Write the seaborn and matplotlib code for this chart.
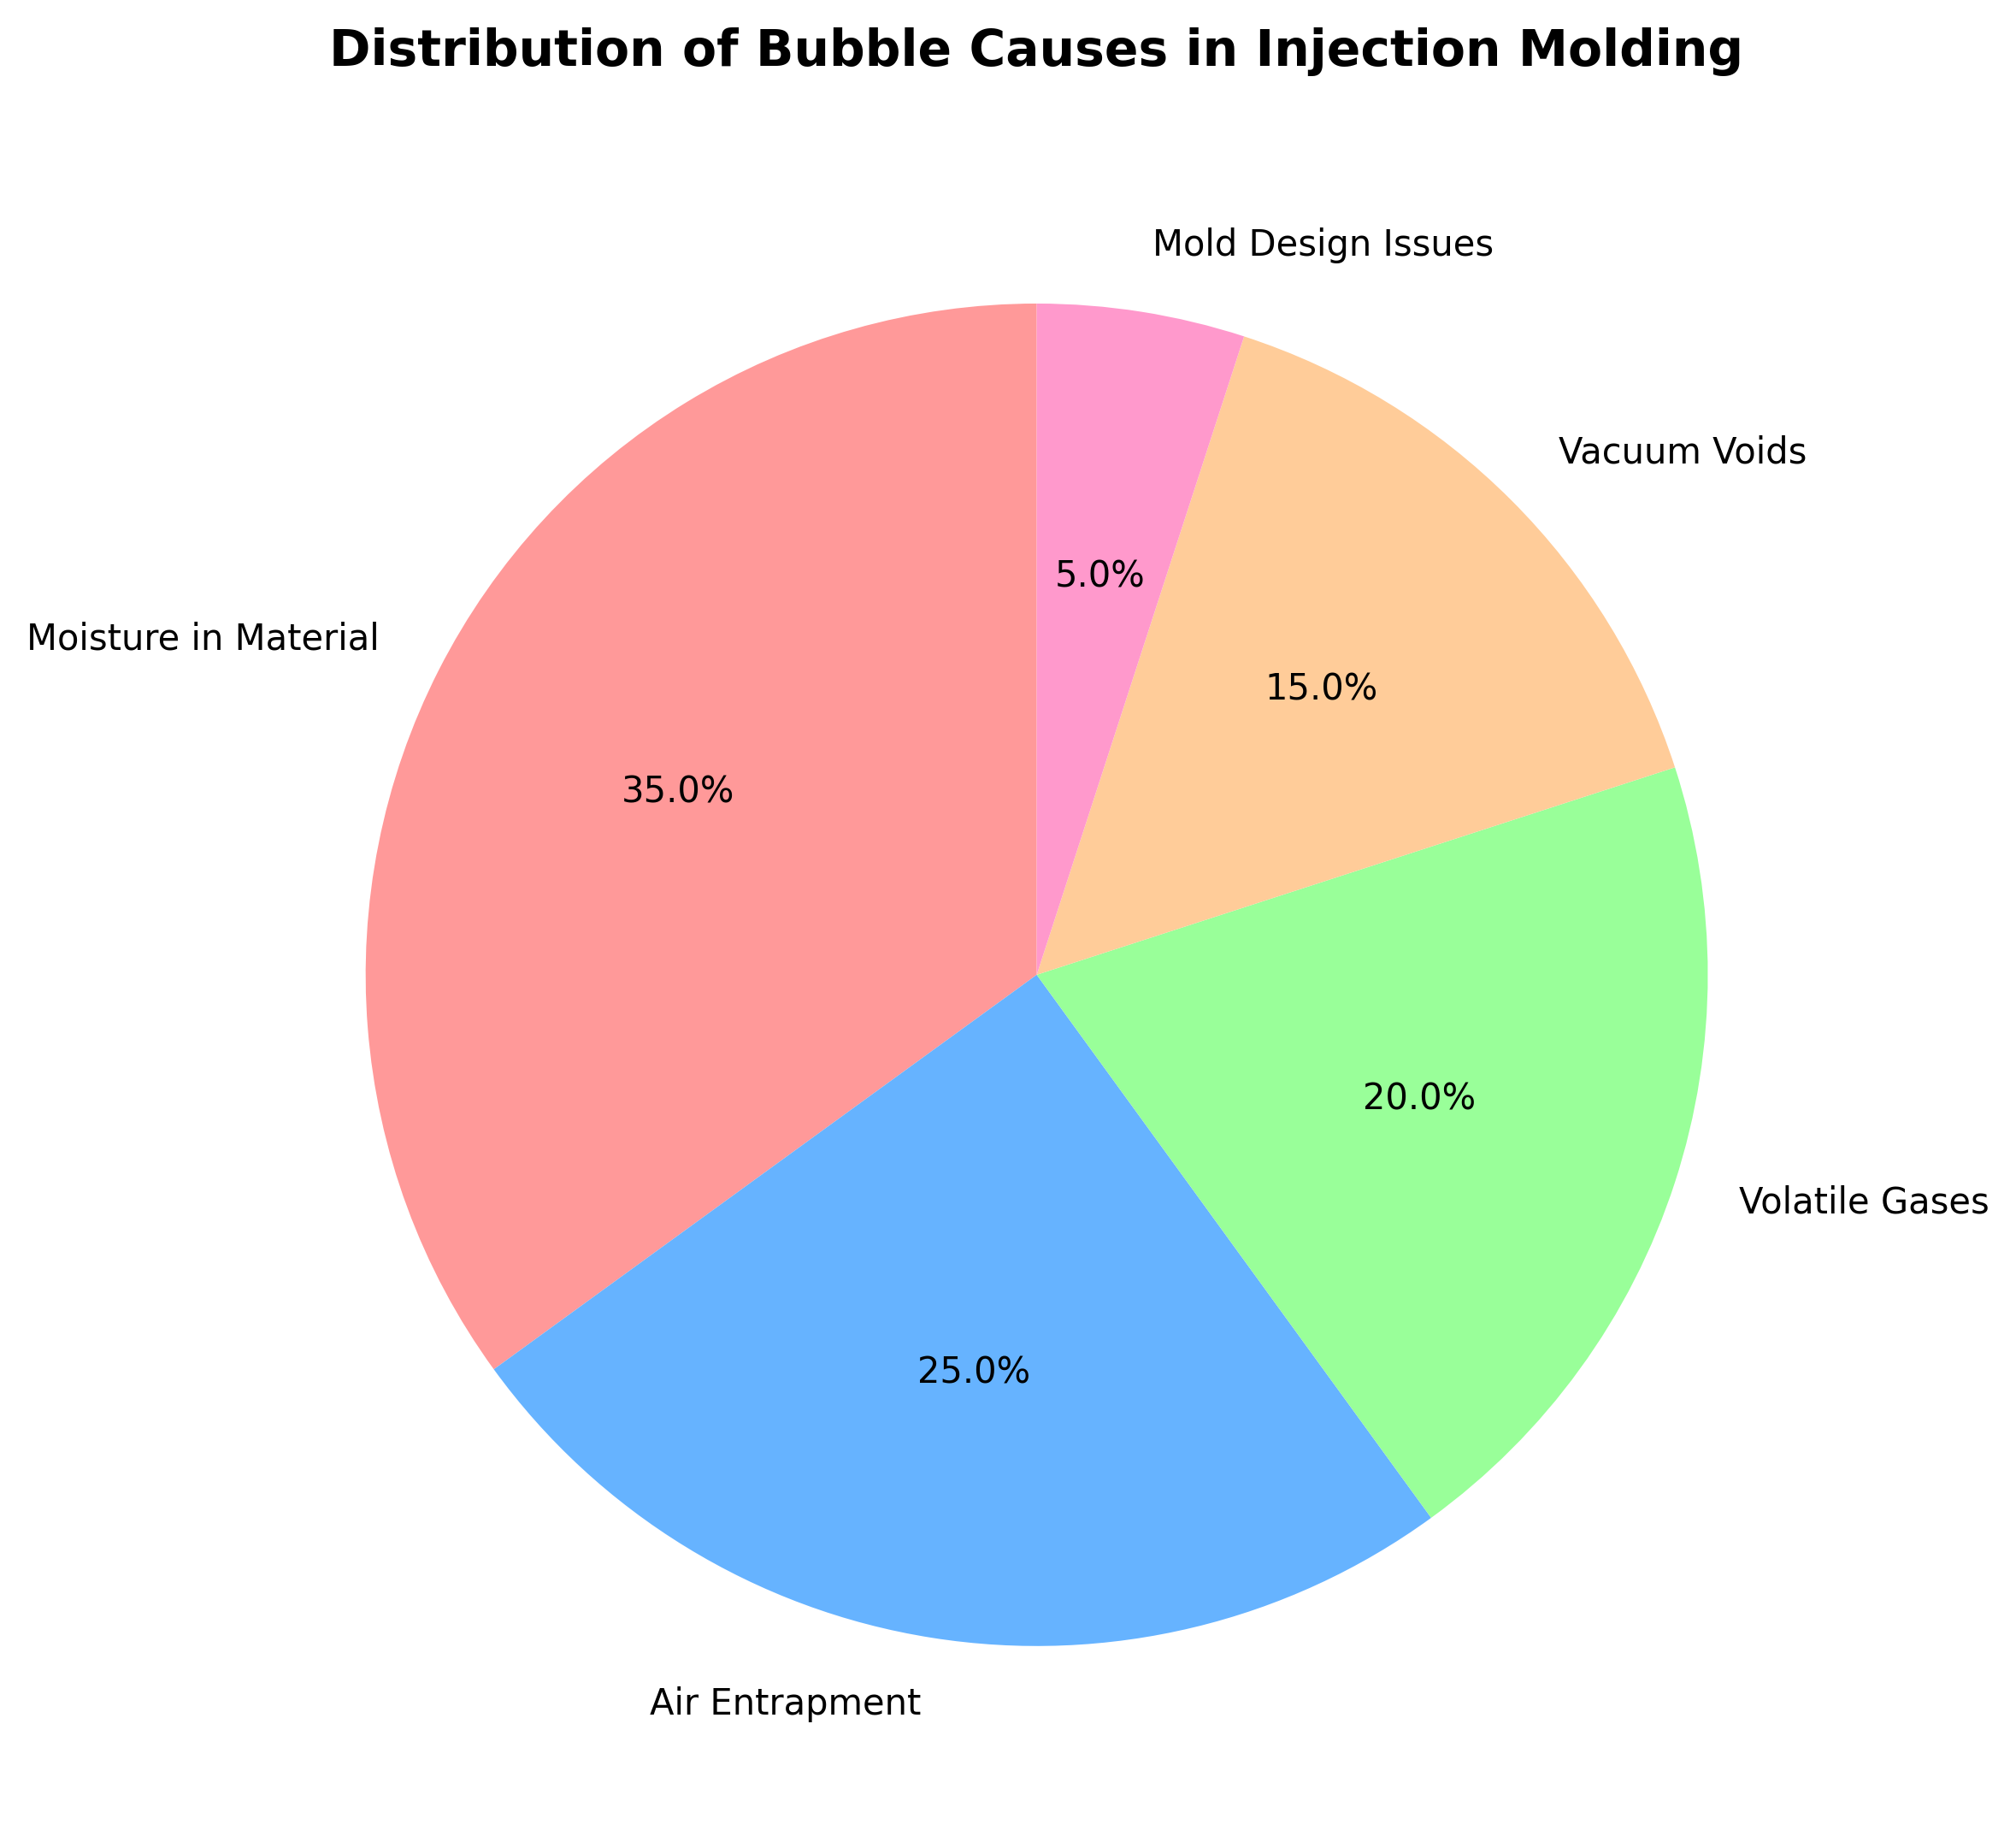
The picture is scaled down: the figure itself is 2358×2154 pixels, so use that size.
import matplotlib
matplotlib.use("Agg")
import matplotlib.pyplot as plt
import seaborn as sns

sns.set_style("white")
plt.rcParams['font.family'] = ['DejaVu Sans']
plt.rcParams['text.color'] = 'black'

causes = ['Moisture in Material', 'Air Entrapment', 'Volatile Gases', 'Vacuum Voids', 'Mold Design Issues']
shares = [35, 25, 20, 15, 5]
colors = ['#FF9999', '#66B3FF', '#99FF99', '#FFCC99', '#FF99CC']

fig = plt.figure(figsize=(11.79, 10.77), dpi=200)
ax = fig.add_axes([0.098, 0.0153, 0.8325, 0.911])

ax.pie(shares, labels=causes, colors=colors, autopct='%1.1f%%', startangle=90,
       textprops={'fontsize': 15, 'color': 'black'},
       wedgeprops={'linewidth': 0, 'edgecolor': 'none'})
ax.set_aspect('equal')

fig.suptitle('Distribution of Bubble Causes in Injection Molding',
             fontsize=21, fontweight='bold', x=0.514, y=0.985, color='black')

fig.savefig('out.png', dpi=200)
